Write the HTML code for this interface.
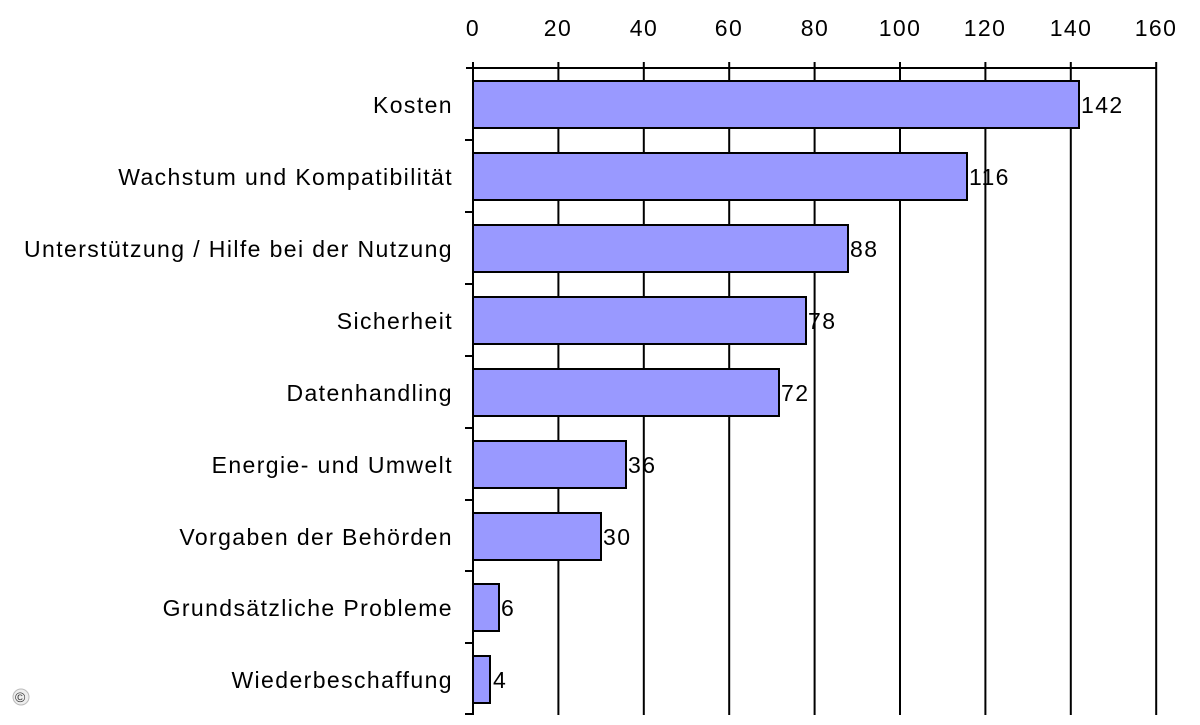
<!DOCTYPE html>
<html><head><style>body{margin:0;background:#fff}</style></head><body>
<svg width="1200" height="720" xmlns="http://www.w3.org/2000/svg" font-family="Liberation Sans, sans-serif" font-size="23" letter-spacing="1.4" fill="#000">
<rect width="1200" height="720" fill="#fff"/>
<g stroke="#000" stroke-width="2">
<line x1="473" y1="62" x2="473" y2="715"/>
<line x1="466" y1="68" x2="1157" y2="68"/>
<line x1="558.4" y1="62" x2="558.4" y2="715"/>
<line x1="643.8" y1="62" x2="643.8" y2="715"/>
<line x1="729.2" y1="62" x2="729.2" y2="715"/>
<line x1="814.6" y1="62" x2="814.6" y2="715"/>
<line x1="900" y1="62" x2="900" y2="715"/>
<line x1="985.4" y1="62" x2="985.4" y2="715"/>
<line x1="1070.8" y1="62" x2="1070.8" y2="715"/>
<line x1="1156.2" y1="62" x2="1156.2" y2="715"/>
<line x1="465" y1="140" x2="473" y2="140"/>
<line x1="465" y1="212" x2="473" y2="212"/>
<line x1="465" y1="284" x2="473" y2="284"/>
<line x1="465" y1="356" x2="473" y2="356"/>
<line x1="465" y1="428" x2="473" y2="428"/>
<line x1="465" y1="500" x2="473" y2="500"/>
<line x1="465" y1="571" x2="473" y2="571"/>
<line x1="465" y1="643" x2="473" y2="643"/>
<line x1="465" y1="714" x2="473" y2="714"/>
</g>
<g fill="#9999ff" stroke="#000" stroke-width="2">
<rect x="473" y="81" width="606" height="47"/>
<rect x="473" y="153" width="494" height="47"/>
<rect x="473" y="225" width="375" height="47"/>
<rect x="473" y="297" width="333" height="47"/>
<rect x="473" y="369" width="306" height="47"/>
<rect x="473" y="441" width="153" height="47"/>
<rect x="473" y="513" width="128" height="47"/>
<rect x="473" y="584" width="26" height="47"/>
<rect x="473" y="656" width="17" height="47"/>
</g>
<g text-anchor="middle">
<text x="473" y="36">0</text><text x="558" y="36">20</text><text x="644" y="36">40</text><text x="729" y="36">60</text><text x="815" y="36">80</text><text x="900" y="36">100</text><text x="985" y="36">120</text><text x="1071" y="36">140</text><text x="1156" y="36">160</text>
</g>
<g text-anchor="end">
<text x="453" y="113">Kosten</text>
<text x="453" y="185">Wachstum und Kompatibilität</text>
<text x="453" y="257">Unterstützung / Hilfe bei der Nutzung</text>
<text x="453" y="329">Sicherheit</text>
<text x="453" y="401">Datenhandling</text>
<text x="453" y="473">Energie- und Umwelt</text>
<text x="453" y="545">Vorgaben der Behörden</text>
<text x="453" y="616">Grundsätzliche Probleme</text>
<text x="453" y="688">Wiederbeschaffung</text>
</g>
<text x="1081" y="113">142</text>
<text x="969" y="185">116</text>
<text x="850" y="257">88</text>
<text x="808" y="329">78</text>
<text x="781" y="401">72</text>
<text x="628" y="473">36</text>
<text x="603" y="545">30</text>
<text x="501" y="616">6</text>
<text x="493" y="688">4</text>
<circle cx="21" cy="697" r="8" fill="#eee" stroke="#bbb"/>
<text x="15" y="702" font-size="14" letter-spacing="0" fill="#333">©</text>
</svg>
</body></html>
